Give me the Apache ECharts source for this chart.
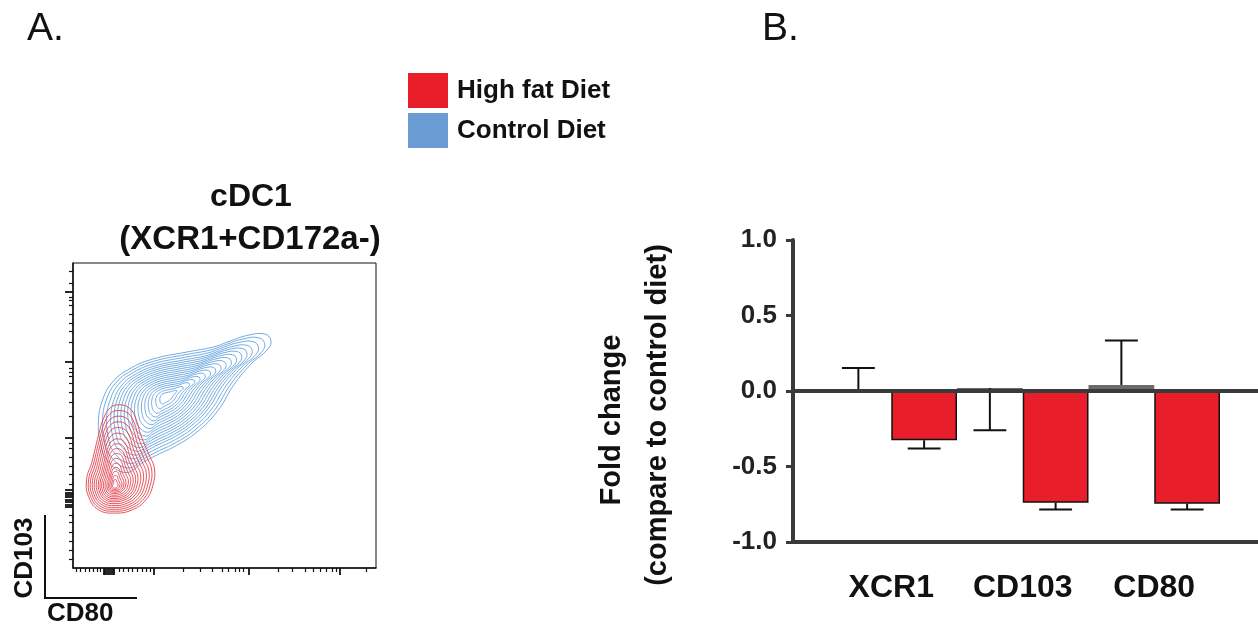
<!DOCTYPE html>
<html>
<head>
<meta charset="utf-8">
<script src="https://cdn.jsdelivr.net/npm/echarts@6/dist/echarts.min.js"></script>
<style>
  html, body { margin: 0; padding: 0; background: #fff; }
  #chart { width: 1258px; height: 629px; }
</style>
</head>
<body>
<div id="chart"></div>
<script>
// ---------------- Panel B data (fold change) ----------------
const categories = ['XCR1', 'CD103', 'CD80'];
const controlMean = [0.0, 0.02, 0.04];
const controlErrEnd = [0.153, -0.26, 0.334];
const hfdMean = [-0.326, -0.74, -0.746];
const hfdErrEnd = [-0.38, -0.785, -0.785];
const foldTicks = { min: -1, max: 1, interval: 0.5 };

// ---------------- Panel A data (contour plot, axis in % of display range) ----------------
// outermost contour of each population (CD80 %, CD103 %)
const controlOuterContour = [
  [65.3, 74.7], [63.3, 76.7], [57.7, 76.3], [51.0, 74.1], [46.5, 72.5], [37.5, 70.8],
  [26.3, 68.5], [18.5, 65.2], [12.9, 60.8], [9.6, 54.6], [8.4, 48.0], [9.0, 41.3],
  [11.2, 35.4], [17.4, 31.3], [23.0, 34.6], [27.4, 36.9], [34.2, 40.2], [40.9, 44.6],
  [47.6, 51.3], [53.2, 60.2], [58.8, 66.9], [64.4, 71.9]
];
const controlPeak = [30.9, 56.2];
const controlLevels = [1, 0.94, 0.88, 0.82, 0.77, 0.72, 0.67, 0.62, 0.57, 0.52, 0.47, 0.42, 0.37, 0.32, 0.27, 0.22, 0.16, 0.1];

const hfdOuterContour = [
  [15.1, 53.5], [18.5, 52.5], [20.7, 49.1], [22.4, 43.5], [25.2, 36.9], [26.9, 32.5],
  [26.3, 26.9], [24.1, 22.4], [19.6, 19.1], [14.0, 18.0], [8.4, 19.1], [5.1, 23.5],
  [4.5, 29.1], [6.2, 34.6], [8.4, 43.5], [10.1, 49.1], [12.3, 52.5]
];
const hfdPeak = [13.8, 26.9];
const hfdLevels = [1, 0.93, 0.86, 0.79, 0.72, 0.65, 0.58, 0.52, 0.46, 0.40, 0.34, 0.28, 0.23, 0.18, 0.13, 0.08];

const flowXMinorTicks = [1.2, 2.5, 4.0, 5.4, 6.7, 8.0, 9.1, 15.3, 16.6, 18.3, 19.7, 21.2, 22.7, 24.1, 25.4,
  36.4, 41.9, 45.8, 49.1, 51.3, 53.5, 54.8, 56.2, 67.8, 72.5, 76.6, 79.3, 81.5, 83.7, 85.4, 86.8, 96.9];
const flowXMajorTicks = [10, 10.6, 11.2, 11.8, 12.4, 13, 13.6, 26.8, 57.9, 87.9];
const flowYMinorTicks = [3.0, 5.9, 8.9, 11.8, 15.1, 17.4, 27.5, 30.8, 33.4, 36.4, 39.3, 41.0, 49.8, 54.4,
  57.7, 60.7, 63.0, 64.3, 65.6, 74.1, 77.7, 80.3, 83.3, 86.2, 87.9, 88.9, 93.4, 97.4];
const flowYMajorTicks = [20, 20.8, 21.6, 22.4, 23.2, 24, 24.8, 25.6, 42.6, 67.5, 90.5];

// ---------------- styling ----------------
const FONT = '"Liberation Sans", Arial, Helvetica, sans-serif';
const RED = '#e81e2a';
const BLUE_LEGEND = '#6a9bd2';
const BLUE_LINE = '#62a2de';
const RED_LINE = '#e3404b';
const AXIS_DARK = '#3a3a3a';

function contourRenderer(outer, color) {
  return function (params, api) {
    const cx = api.value(0), cy = api.value(1), s = api.value(2);
    const pts = outer.map(p => api.coord([cx + s * (p[0] - cx), cy + s * (p[1] - cy)]));
    return {
      type: 'polygon',
      shape: { points: pts, smooth: 0.45 },
      style: { fill: 'none', stroke: color, lineWidth: 0.9 }
    };
  };
}

function errorRenderer(params, api) {
  const c = api.value(0), v0 = api.value(1), v1 = api.value(2), side = api.value(3);
  const band = api.size([1, 0])[0];
  const p0 = api.coord([c, v0]);
  const p1 = api.coord([c, v1]);
  const x = p0[0] + side * band / 4;
  const half = band * 0.125;
  return {
    type: 'group',
    children: [
      { type: 'line', shape: { x1: x, y1: p0[1], x2: x, y2: p1[1] }, style: { stroke: '#111', lineWidth: 2 } },
      { type: 'line', shape: { x1: x - half, y1: p1[1], x2: x + half, y2: p1[1] }, style: { stroke: '#111', lineWidth: 2 } }
    ]
  };
}

const errData = [];
categories.forEach((c, i) => {
  errData.push([i, controlMean[i], controlErrEnd[i], -1]);
  errData.push([i, hfdMean[i], hfdErrEnd[i], 1]);
});

const chart = echarts.init(document.getElementById('chart'), null, { renderer: 'canvas' });

const option = {
  backgroundColor: '#fff',
  animation: false,
  textStyle: { fontFamily: FONT },
  legend: {
    left: 408, top: 73, orient: 'vertical', icon: 'rect',
    itemWidth: 40, itemHeight: 35, itemGap: 5, padding: 0, selectedMode: false,
    textStyle: { fontSize: 26, fontWeight: 'bold', color: '#111', fontFamily: FONT, padding: [0, 0, 0, 4] },
    data: [
      { name: 'High fat Diet', itemStyle: { color: RED, borderWidth: 0 } },
      { name: 'Control Diet', itemStyle: { color: BLUE_LEGEND, borderWidth: 0 } }
    ]
  },
  grid: [
    { left: 793, right: 0, top: 240, height: 302 },                 // B axes frame
    { left: 825.5, width: 394.5, top: 240, height: 302 },           // B bars
    { left: 73, top: 263, width: 303, height: 305, show: true, borderColor: '#111', borderWidth: 1 } // A
  ],
  xAxis: [
    { gridIndex: 0, type: 'value', min: 0, max: 1, position: 'bottom',
      axisLine: { show: true, onZero: false, lineStyle: { color: AXIS_DARK, width: 4 } },
      axisTick: { show: false }, axisLabel: { show: false }, splitLine: { show: false } },
    { gridIndex: 0, type: 'value', min: 0, max: 1, position: 'top', z: 5,
      axisLine: { show: true, onZero: true, lineStyle: { color: AXIS_DARK, width: 4 } },
      axisTick: { show: false }, axisLabel: { show: false }, splitLine: { show: false } },
    { gridIndex: 1, type: 'category', data: categories, position: 'bottom',
      axisLine: { show: false, onZero: false }, axisTick: { show: false },
      axisLabel: { fontSize: 32, fontWeight: 'bold', color: '#111', margin: 30, fontFamily: FONT } },
    { gridIndex: 2, type: 'value', min: 0, max: 100, position: 'bottom',
      axisLine: { show: true, onZero: false, lineStyle: { color: '#111', width: 1.5 } },
      axisTick: { show: true, inside: false, length: 4, customValues: flowXMinorTicks, lineStyle: { color: '#111', width: 1.2 } },
      axisLabel: { show: false }, splitLine: { show: false } },
    { gridIndex: 2, type: 'value', min: 0, max: 100, position: 'bottom',
      axisLine: { show: false, onZero: false },
      axisTick: { show: true, inside: false, length: 7, customValues: flowXMajorTicks, lineStyle: { color: '#111', width: 1.8 } },
      axisLabel: { show: false }, splitLine: { show: false } }
  ],
  yAxis: [
    { gridIndex: 0, type: 'value', min: foldTicks.min, max: foldTicks.max, interval: foldTicks.interval,
      axisLine: { show: true, onZero: false, lineStyle: { color: AXIS_DARK, width: 4 } },
      axisTick: { show: true, length: 7, lineStyle: { color: AXIS_DARK, width: 3 } },
      axisLabel: { fontSize: 26, fontWeight: 'bold', color: '#222', margin: 16, fontFamily: FONT,
                   formatter: v => v.toFixed(1) },
      splitLine: { show: false } },
    { gridIndex: 1, type: 'value', min: foldTicks.min, max: foldTicks.max, show: false },
    { gridIndex: 2, type: 'value', min: 0, max: 100, position: 'left',
      axisLine: { show: true, onZero: false, lineStyle: { color: '#111', width: 1.5 } },
      axisTick: { show: true, inside: false, length: 4, customValues: flowYMinorTicks, lineStyle: { color: '#111', width: 1.2 } },
      axisLabel: { show: false }, splitLine: { show: false } },
    { gridIndex: 2, type: 'value', min: 0, max: 100, position: 'left',
      axisLine: { show: false, onZero: false },
      axisTick: { show: true, inside: false, length: 8, customValues: flowYMajorTicks, lineStyle: { color: '#111', width: 1.8 } },
      axisLabel: { show: false }, splitLine: { show: false } }
  ],
  series: [
    { name: 'Control Diet', type: 'custom', xAxisIndex: 3, yAxisIndex: 2, coordinateSystem: 'cartesian2d',
      itemStyle: { color: BLUE_LINE },
      encode: { x: 0, y: 1 },
      renderItem: contourRenderer(controlOuterContour, BLUE_LINE),
      data: controlLevels.map(s => [controlPeak[0], controlPeak[1], s]) },
    { name: 'High fat Diet', type: 'custom', xAxisIndex: 3, yAxisIndex: 2, coordinateSystem: 'cartesian2d',
      itemStyle: { color: RED_LINE },
      encode: { x: 0, y: 1 },
      renderItem: contourRenderer(hfdOuterContour, RED_LINE),
      data: hfdLevels.map(s => [hfdPeak[0], hfdPeak[1], s]) },
    { name: 'Control Diet', type: 'bar', xAxisIndex: 2, yAxisIndex: 1,
      barGap: '0%', barCategoryGap: '0%',
      itemStyle: { color: '#6b6b6b' }, data: controlMean },
    { name: 'High fat Diet', type: 'bar', xAxisIndex: 2, yAxisIndex: 1,
      barGap: '0%', barCategoryGap: '0%',
      itemStyle: { color: RED, borderColor: '#111', borderWidth: 1.5 }, data: hfdMean },
    { name: 'error', type: 'custom', xAxisIndex: 2, yAxisIndex: 1, coordinateSystem: 'cartesian2d',
      encode: { x: 0, y: [1, 2] }, z: 3,
      renderItem: errorRenderer, data: errData }
  ],
  graphic: [
    { type: 'text', left: 27, top: 10, style: { text: 'A.', fontSize: 39, fontFamily: FONT, fill: '#111' } },
    { type: 'text', left: 762, top: 10, style: { text: 'B.', fontSize: 39, fontFamily: FONT, fill: '#111' } },
    { type: 'text', x: 251, y: 197, style: { text: 'cDC1', fontSize: 32, fontWeight: 'bold', fontFamily: FONT, fill: '#111', align: 'center', verticalAlign: 'middle' } },
    { type: 'text', x: 250, y: 240, style: { text: '(XCR1+CD172a-)', fontSize: 33, fontWeight: 'bold', fontFamily: FONT, fill: '#111', align: 'center', verticalAlign: 'middle' } },
    { type: 'text', x: 25, y: 558, rotation: Math.PI / 2, style: { text: 'CD103', fontSize: 26, fontWeight: 'bold', fontFamily: FONT, fill: '#111', align: 'center', verticalAlign: 'middle' } },
    { type: 'text', x: 47, y: 614, style: { text: 'CD80', fontSize: 26, fontWeight: 'bold', fontFamily: FONT, fill: '#111', align: 'left', verticalAlign: 'middle' } },
    { type: 'polyline', shape: { points: [[45, 515], [45, 598], [137, 598]] }, style: { stroke: '#111', lineWidth: 2, fill: 'none' } },
    { type: 'text', x: 612, y: 420, rotation: Math.PI / 2, style: { text: 'Fold change', fontSize: 29, fontWeight: 'bold', fontFamily: FONT, fill: '#111', align: 'center', verticalAlign: 'middle' } },
    { type: 'text', x: 658, y: 415, rotation: Math.PI / 2, style: { text: '(compare to control diet)', fontSize: 29, fontWeight: 'bold', fontFamily: FONT, fill: '#111', align: 'center', verticalAlign: 'middle' } }
  ]
};
chart.setOption(option);
</script>
</body>
</html>
